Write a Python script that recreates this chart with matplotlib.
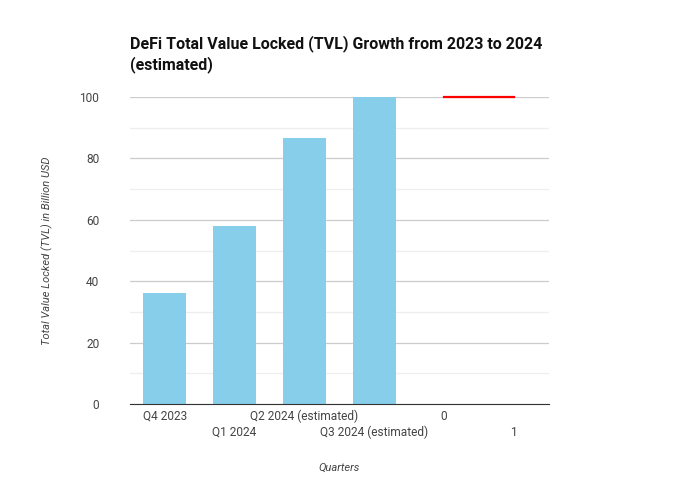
import numpy as np
import matplotlib.pyplot as plt
from matplotlib.ticker import MultipleLocator
from matplotlib.transforms import ScaledTranslation

plt.rcParams['font.family'] = ['Roboto', 'DejaVu Sans']

QUARTERS = ['Q4 2023', 'Q1 2024', 'Q2 2024 (estimated)', 'Q3 2024 (estimated)', '0', '1']
TVL = [36, 58, 86.5, 100]
LINE_X = [4, 5]
LINE_Y = [100, 100]


def main():
    fig = plt.figure(figsize=(6.8, 5), dpi=100)
    ax = fig.add_axes([0.191, 0.192, 0.616, 0.614])

    x = np.arange(len(TVL))
    ax.bar(x, TVL, width=0.62, color='#87ceeb', zorder=2)
    ax.plot(LINE_X, LINE_Y, color='#ff0000', linewidth=1.6, zorder=3, clip_on=False)

    ax.set_xlim(-0.5, len(QUARTERS) - 0.5)
    ax.set_ylim(0, 100)
    ax.yaxis.set_major_locator(MultipleLocator(20))
    ax.yaxis.set_minor_locator(MultipleLocator(10))
    ax.grid(axis='y', which='major', color='#cccccc', linewidth=0.9, zorder=0)
    ax.grid(axis='y', which='minor', color='#eeeeee', linewidth=0.9, zorder=0)

    ax.set_xticks(np.arange(len(QUARTERS)))
    ax.set_xticklabels(QUARTERS)
    ax.tick_params(axis='both', which='both', length=0, labelsize=8.6, labelcolor='#444444')
    ax.tick_params(axis='x', pad=4)
    ax.tick_params(axis='y', pad=22)
    # stagger every other category label onto a second row
    shift = ScaledTranslation(0, -16 / 100, fig.dpi_scale_trans)
    for i, lab in enumerate(ax.get_xticklabels()):
        if i % 2 == 1:
            lab.set_transform(lab.get_transform() + shift)

    for side in ['left', 'right', 'top']:
        ax.spines[side].set_visible(False)
    ax.spines['bottom'].set_color('#333333')
    ax.spines['bottom'].set_zorder(4)

    ax.text(0.5, -0.207, 'Quarters', transform=ax.transAxes, fontsize=8, style='italic',
            color='#444444', ha='center', va='center')
    ax.text(-0.197, 0.5, 'Total Value Locked (TVL) in Billion USD', transform=ax.transAxes,
            fontsize=8, style='italic', color='#444444', ha='center', va='center',
            rotation=90)

    fig.text(0.191, 0.93, 'DeFi Total Value Locked (TVL) Growth from 2023 to 2024\n(estimated)',
             fontsize=11.5, fontweight='bold', color='#111111', ha='left', va='top',
             linespacing=1.35)

    fig.savefig('out.png', dpi=100)


if __name__ == '__main__':
    main()
